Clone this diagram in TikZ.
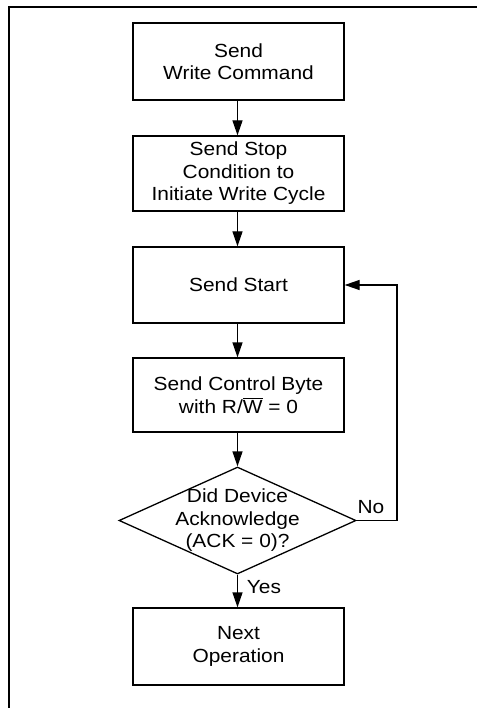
\documentclass[tikz,border=0pt]{standalone}
\usepackage{fontspec}
\setmainfont{Liberation Sans}[FakeStretch=1.1]
\usetikzlibrary{shapes.geometric,arrows.meta}
\begin{document}
\begin{tikzpicture}[x=1pt,y=-1pt,
  every node/.style={font=\fontsize{19}{22.5}\selectfont, align=center},
  stepbox/.style={draw, line width=1.3pt, minimum width=211pt, inner sep=0pt},
  decbox/.style={draw, shape=diamond, line width=1.3pt, minimum width=237pt, minimum height=107pt, inner sep=0pt},
  flow/.style={line width=1.3pt, -{Triangle[length=15pt,width=10pt]}},
  frameline/.style={line width=1.3pt}]
\useasboundingbox (0,0) rectangle (477,708);
\draw[frameline] (9,708) -- (9,7) -- (477,7);

\node[stepbox, minimum height=77pt] (b1) at (238.5,61.5) {Send\\Write Command};
\node[stepbox, minimum height=75pt] (b2) at (238.5,173.5) {Send Stop\\Condition to\\Initiate Write Cycle};
\node[stepbox, minimum height=76pt] (b3) at (238.5,285) {Send Start};
\node[stepbox, minimum height=74pt] (b4) at (238.5,395) {Send Control Byte\\with R/$\overline{\hbox{W}}$ = 0};
\node[decbox] (dec) at (237.5,520.5) {};
\node (dectext) at (237.5,520.5) {Did Device\\Acknowledge\\(ACK = 0)?};
\node[stepbox, minimum height=77pt] (b5) at (238.5,646.5) {Next\\Operation};

\node (no) at (371,507) {No};
\node (yes) at (264,587) {Yes};

\coordinate (c1) at (397,520.5);
\coordinate (c2) at (397,285);

\draw[flow] (b1.south -| dec.north) -- (b2.north -| dec.north);
\draw[flow] (b2.south -| dec.north) -- (b3.north -| dec.north);
\draw[flow] (b3.south -| dec.north) -- (b4.north -| dec.north);
\draw[flow] (b4.south -| dec.north) -- (dec.north);
\draw[flow] (dec.south) -- (b5.north -| dec.south);
\draw[flow] (dec.east) -- (c1) -- (c2) -- (b3.east);
\end{tikzpicture}
\end{document}
